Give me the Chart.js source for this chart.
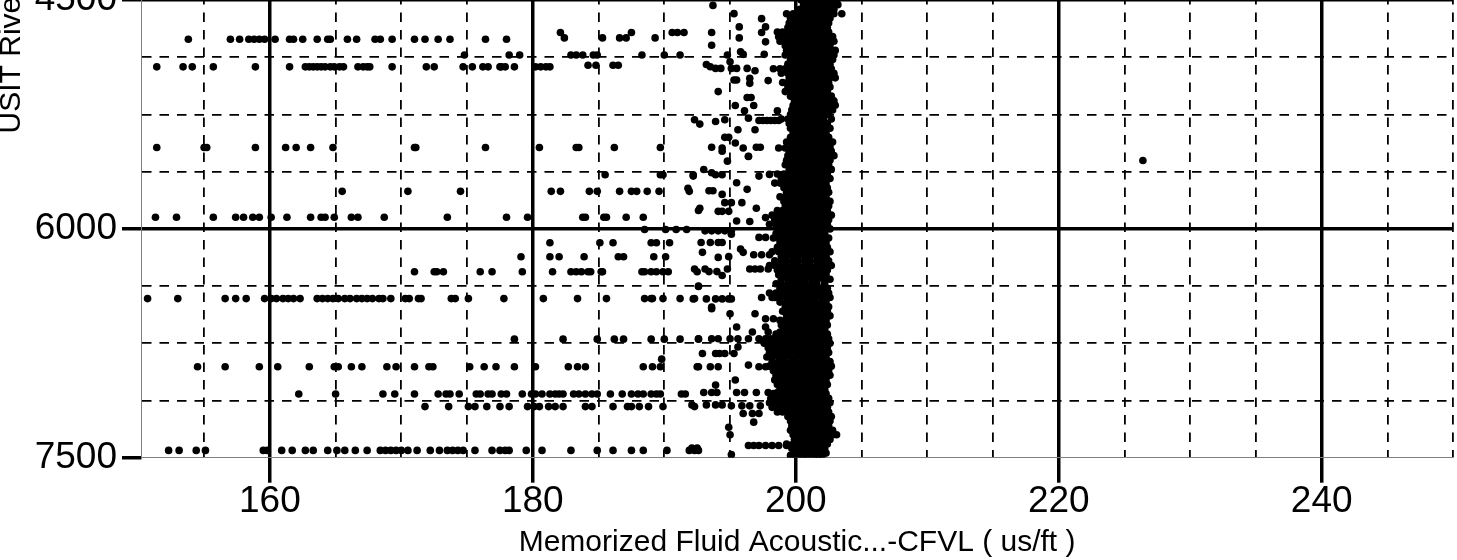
<!DOCTYPE html>
<html>
<head>
<meta charset="utf-8">
<title>CFVL vs depth crossplot</title>
<script src="https://cdn.jsdelivr.net/npm/chart.js@4.4.1/dist/chart.umd.min.js"></script>
<style>
  html, body { margin: 0; padding: 0; background: #fff; overflow: hidden; }
  #frame { position: relative; width: 1457px; height: 560px; overflow: hidden; }
  #crossplot { position: absolute; left: 0; top: -536px; }
</style>
</head>
<body>
<div id="frame"><canvas id="crossplot" width="1457" height="1096"></canvas></div>
<script>
const FONT = "Arial, 'Liberation Sans', sans-serif";

// axis ticks: every tick gets a grid line, only the labelled ones are major
const slownessTicks = [155, 160, 165, 170, 175, 180, 185, 190, 195, 200, 205, 210, 215, 220, 225, 230, 235, 240, 245, 250];
const slownessLabels = [160, 180, 200, 220, 240];
const depthTicks = [1500, 1875, 2250, 2625, 3000, 3375, 3750, 4125, 4500, 4875, 5250, 5625, 6000, 6375, 6750, 7125, 7500];
const depthLabels = [1500, 3000, 4500, 6000, 7500];

// main fluid-slowness trend, one row of readings per depth
const bandDepths = [4470, 4500, 4530, 4560, 4590, 4620, 4650, 4680, 4710, 4740, 4770, 4800, 4830, 4860, 4890, 4920, 4950, 4980,
  5010, 5040, 5070, 5100, 5130, 5160, 5190, 5220, 5250, 5280, 5310, 5340, 5370, 5400, 5430, 5460, 5490, 5520, 5550, 5580,
  5610, 5640, 5670, 5700, 5730, 5760, 5790, 5820, 5850, 5880, 5910, 5940, 5970, 6000, 6030, 6060, 6090, 6120, 6150, 6180,
  6210, 6240, 6270, 6300, 6330, 6360, 6390, 6420, 6450, 6480, 6510, 6540, 6570, 6600, 6630, 6660, 6690, 6720, 6750, 6780,
  6810, 6840, 6870, 6900, 6930, 6960, 6990, 7020, 7050, 7080, 7110, 7140, 7170, 7200, 7230, 7260, 7290, 7320, 7350, 7380,
  7410, 7440, 7470, 7485];
const bandSlowness = [
  [200.5, 200.9, 201.4, 201.8, 202.3, 202.7, 203.2],
  [200.4, 200.8, 201.3, 201.7, 202.2, 202.6, 203.0],
  [200.6, 201.0, 201.5, 201.9, 202.4, 202.8, 203.2],
  [200.3, 200.7, 201.2, 201.6, 202.1, 202.5, 202.9],
  [199.3, 199.8, 200.2, 200.7, 201.1, 201.6, 202.0, 202.5, 202.9, 203.5],
  [199.6, 200.0, 200.5, 200.9, 201.4, 201.8, 202.2, 202.6],
  [199.5, 199.9, 200.4, 200.8, 201.3, 201.7, 202.1, 202.5],
  [199.4, 199.8, 200.3, 200.7, 201.2, 201.6, 202.0, 202.4],
  [198.6, 199.0, 199.5, 199.9, 200.4, 200.8, 201.3, 201.7, 202.1, 202.5],
  [198.7, 199.2, 199.6, 200.1, 200.5, 201.0, 201.4, 201.9, 202.3, 202.8],
  [198.8, 199.2, 199.7, 200.1, 200.6, 201.0, 201.5, 201.9, 202.4, 202.9],
  [199.2, 199.6, 200.1, 200.5, 201.0, 201.4, 201.8, 202.2, 202.6],
  [199.3, 199.8, 200.2, 200.7, 201.1, 201.6, 202.0, 202.5, 203.0],
  [199.2, 199.6, 200.1, 200.5, 201.0, 201.4, 201.9, 202.4, 202.9],
  [199.6, 200.0, 200.5, 200.9, 201.4, 201.8, 202.3, 202.8],
  [199.4, 199.9, 200.3, 200.8, 201.2, 201.7, 202.1, 202.6],
  [198.3, 198.8, 199.2, 199.7, 200.1, 200.6, 201.0, 201.5, 201.9, 202.3, 202.7],
  [198.9, 199.4, 199.8, 200.3, 200.7, 201.2, 201.6, 202.1, 202.5, 202.9],
  [199.5, 199.9, 200.4, 200.8, 201.3, 201.7, 202.2, 202.6, 203.0],
  [199.0, 199.4, 199.9, 200.3, 200.8, 201.2, 201.7, 202.1, 202.5],
  [199.4, 199.8, 200.3, 200.7, 201.2, 201.6, 202.1, 202.6],
  [199.2, 199.7, 200.1, 200.6, 201.0, 201.5, 201.9, 202.4],
  [199.6, 200.0, 200.5, 200.9, 201.4, 201.8, 202.3, 202.7],
  [199.9, 200.3, 200.8, 201.2, 201.7, 202.1, 202.5, 202.9],
  [199.8, 200.2, 200.7, 201.1, 201.6, 202.0, 202.5, 203.0],
  [199.7, 200.1, 200.6, 201.0, 201.5, 201.9, 202.4, 202.8],
  [199.6, 200.0, 200.5, 200.9, 201.4, 201.8, 202.2, 202.5],
  [198.9, 199.4, 199.8, 200.3, 200.7, 201.2, 201.6, 202.1, 202.7],
  [199.5, 199.9, 200.4, 200.8, 201.3, 201.7, 202.1, 202.4],
  [199.6, 200.1, 200.5, 201.0, 201.4, 201.9, 202.3, 202.6],
  [199.8, 200.2, 200.7, 201.1, 201.6, 202.0, 202.3],
  [199.6, 200.0, 200.5, 200.9, 201.4, 201.8, 202.2, 202.5],
  [199.3, 199.8, 200.2, 200.7, 201.1, 201.6, 202.0, 202.4, 202.8],
  [199.7, 200.1, 200.6, 201.0, 201.5, 201.9, 202.3, 202.6],
  [199.5, 200.0, 200.4, 200.9, 201.3, 201.8, 202.2, 202.7],
  [199.4, 199.8, 200.3, 200.7, 201.2, 201.6, 202.1, 202.5, 202.9],
  [199.3, 199.7, 200.2, 200.6, 201.1, 201.5, 202.0, 202.3, 202.6],
  [199.2, 199.7, 200.1, 200.6, 201.0, 201.5, 201.9, 202.2, 202.5],
  [199.5, 199.9, 200.4, 200.8, 201.3, 201.7, 202.2, 202.7],
  [198.6, 199.1, 199.5, 200.0, 200.4, 200.9, 201.3, 201.8, 202.1, 202.4],
  [198.9, 199.3, 199.8, 200.2, 200.7, 201.1, 201.6, 202.0, 202.3, 202.6],
  [198.4, 198.8, 199.3, 199.7, 200.2, 200.6, 201.1, 201.5, 202.0, 202.3],
  [199.1, 199.5, 200.0, 200.4, 200.9, 201.3, 201.8, 202.1, 202.4],
  [199.3, 199.8, 200.2, 200.7, 201.1, 201.6, 202.0, 202.5],
  [198.8, 199.2, 199.7, 200.1, 200.6, 201.0, 201.5, 201.9, 202.3],
  [199.1, 199.6, 200.0, 200.5, 200.9, 201.4, 201.8, 202.2, 202.6],
  [199.2, 199.6, 200.1, 200.5, 201.0, 201.4, 201.9, 202.2, 202.5],
  [198.6, 199.0, 199.5, 199.9, 200.4, 200.8, 201.3, 201.7, 202.1, 202.4],
  [198.2, 198.7, 199.1, 199.6, 200.0, 200.5, 200.9, 201.4, 201.8, 202.3, 202.7],
  [198.4, 198.8, 199.3, 199.7, 200.2, 200.6, 201.1, 201.5, 202.0, 202.5],
  [198.0, 198.5, 198.9, 199.4, 199.8, 200.3, 200.7, 201.2, 201.6, 202.0, 202.4],
  [198.7, 199.1, 199.6, 200.0, 200.5, 200.9, 201.4, 201.8, 202.2, 202.6],
  [198.5, 199.0, 199.4, 199.9, 200.3, 200.8, 201.2, 201.7, 202.2],
  [198.3, 198.7, 199.2, 199.6, 200.1, 200.5, 201.0, 201.4, 201.9, 202.2, 202.5],
  [198.8, 199.3, 199.7, 200.2, 200.6, 201.1, 201.5, 202.0, 202.3],
  [198.6, 199.0, 199.5, 199.9, 200.4, 200.8, 201.3, 201.7, 202.1, 202.4],
  [198.2, 198.7, 199.1, 199.6, 200.0, 200.5, 200.9, 201.4, 201.8, 202.2, 202.6],
  [198.9, 199.3, 199.8, 200.2, 200.7, 201.1, 201.6, 202.0, 202.3],
  [198.4, 198.9, 199.3, 199.8, 200.2, 200.7, 201.1, 201.6, 202.0, 202.5],
  [198.0, 198.4, 198.9, 199.3, 199.8, 200.2, 200.7, 201.1, 201.6, 202.0, 202.4, 202.7],
  [198.6, 199.1, 199.5, 200.0, 200.4, 200.9, 201.3, 201.8, 202.1, 202.4],
  [198.7, 199.1, 199.6, 200.0, 200.5, 200.9, 201.4, 201.8, 202.3],
  [198.9, 199.4, 199.8, 200.3, 200.7, 201.2, 201.6, 202.1, 202.6],
  [198.5, 198.9, 199.4, 199.8, 200.3, 200.7, 201.2, 201.6, 202.2],
  [198.8, 199.2, 199.7, 200.1, 200.6, 201.0, 201.5, 201.9, 202.4],
  [198.0, 198.5, 198.9, 199.4, 199.8, 200.3, 200.7, 201.2, 201.6, 202.1, 202.5],
  [198.4, 198.8, 199.3, 199.7, 200.2, 200.6, 201.1, 201.5, 202.0, 202.3, 202.6],
  [198.8, 199.3, 199.7, 200.2, 200.6, 201.1, 201.5, 202.0, 202.3],
  [199.2, 199.6, 200.1, 200.5, 201.0, 201.4, 201.9, 202.2, 202.5],
  [199.0, 199.5, 199.9, 200.4, 200.8, 201.3, 201.7, 202.1, 202.4],
  [199.3, 199.7, 200.2, 200.6, 201.1, 201.5, 202.0, 202.3, 202.6],
  [198.8, 199.2, 199.7, 200.1, 200.6, 201.0, 201.5, 201.9, 202.3],
  [198.9, 199.4, 199.8, 200.3, 200.7, 201.2, 201.6, 202.0, 202.4],
  [199.1, 199.5, 200.0, 200.4, 200.9, 201.3, 201.8, 202.2],
  [198.5, 199.0, 199.4, 199.9, 200.3, 200.8, 201.2, 201.7, 202.1, 202.4],
  [197.7, 198.1, 198.6, 199.0, 199.5, 199.9, 200.4, 200.8, 201.3, 201.7, 202.2, 202.5],
  [197.6, 198.1, 198.5, 199.0, 199.4, 199.9, 200.3, 200.8, 201.2, 201.7, 202.1, 202.6],
  [197.9, 198.3, 198.8, 199.2, 199.7, 200.1, 200.6, 201.0, 201.5, 201.9, 202.4],
  [198.0, 198.5, 198.9, 199.4, 199.8, 200.3, 200.7, 201.2, 201.6, 202.1, 202.5],
  [197.8, 198.2, 198.7, 199.1, 199.6, 200.0, 200.5, 200.9, 201.4, 201.8, 202.3],
  [198.2, 198.7, 199.1, 199.6, 200.0, 200.5, 200.9, 201.4, 201.8, 202.2, 202.6],
  [198.0, 198.4, 198.9, 199.3, 199.8, 200.2, 200.7, 201.1, 201.6, 202.0, 202.4, 202.7],
  [198.3, 198.8, 199.2, 199.7, 200.1, 200.6, 201.0, 201.5, 201.9, 202.2, 202.5],
  [198.5, 198.9, 199.4, 199.8, 200.3, 200.7, 201.2, 201.6, 202.1, 202.6],
  [198.4, 198.9, 199.3, 199.8, 200.2, 200.7, 201.1, 201.6, 202.0, 202.3],
  [198.6, 199.0, 199.5, 199.9, 200.4, 200.8, 201.3, 201.7, 202.1, 202.4],
  [198.8, 199.3, 199.7, 200.2, 200.6, 201.1, 201.5, 201.9, 202.2],
  [198.3, 198.7, 199.2, 199.6, 200.1, 200.5, 201.0, 201.4, 201.9, 202.3],
  [198.1, 198.6, 199.0, 199.5, 199.9, 200.4, 200.8, 201.3, 201.7, 202.1, 202.5],
  [198.0, 198.4, 198.9, 199.3, 199.8, 200.2, 200.7, 201.1, 201.6, 202.0, 202.3, 202.6],
  [198.2, 198.7, 199.1, 199.6, 200.0, 200.5, 200.9, 201.4, 201.8, 202.1, 202.4],
  [198.6, 199.0, 199.5, 199.9, 200.4, 200.8, 201.3, 201.7, 202.1, 202.5],
  [199.4, 199.9, 200.3, 200.8, 201.2, 201.7, 202.1, 202.4, 202.7],
  [199.6, 200.0, 200.5, 200.9, 201.4, 201.8, 202.2, 202.6],
  [199.7, 200.2, 200.6, 201.1, 201.5, 202.0, 202.5],
  [199.6, 200.0, 200.5, 200.9, 201.4, 201.8, 202.3, 202.8],
  [199.8, 200.2, 200.7, 201.1, 201.6, 202.0, 202.5, 202.8, 203.1],
  [199.9, 200.3, 200.8, 201.2, 201.7, 202.1, 202.6],
  [199.3, 199.8, 200.2, 200.7, 201.1, 201.6, 202.0, 202.4],
  [199.7, 200.1, 200.6, 201.0, 201.5, 201.9, 202.2],
  [199.9, 200.3, 200.8, 201.2, 201.7, 202.0, 202.3],
  [199.6, 200.0, 200.5, 200.9, 201.4, 201.7, 202.0]
];

// scattered readings away from the trend
const scatterDepths = [4535, 4589, 4622, 4676, 4713, 4748, 4757, 4774, 4796, 4839, 4856, 4860, 4904, 4922, 4927, 4937, 4938,
  4948, 4963, 5013, 5024, 5028, 5046, 5100, 5139, 5191, 5226, 5274, 5285, 5290, 5296, 5313, 5350, 5400, 5437, 5465, 5467,
  5470, 5491, 5524, 5526, 5552, 5556, 5611, 5632, 5643, 5645, 5654, 5698, 5734, 5741, 5750, 5754, 5774, 5828, 5865, 5880,
  5885, 5924, 5926, 5948, 5952, 6004, 6013, 6035, 6056, 6089, 6091, 6132, 6154, 6170, 6182, 6183, 6187, 6263, 6280, 6281,
  6306, 6375, 6378, 6450, 6457, 6459, 6513, 6524, 6556, 6589, 6643, 6676, 6720, 6723, 6774, 6817, 6854, 6893, 6904, 6991,
  7024, 7073, 7082, 7154, 7160, 7165, 7210, 7267, 7300, 7350, 7420, 7437, 7452, 7480];
const scatterSlowness = [
  [193.7],
  [195.3],
  [197.4],
  [195.7, 197.7],
  [182.1, 187.5, 190.6, 191.0, 191.5, 193.6, 197.4],
  [182.4, 185.3, 186.6, 187.1, 189.3, 195.7],
  [153.8, 157.0, 157.7, 158.4, 158.8, 159.2, 159.6, 160.4, 161.5, 161.8, 162.5, 163.6, 164.4, 164.6, 165.9, 166.6, 168.0, 168.4, 169.3, 171.0, 171.8, 172.8, 173.7, 176.4, 178.0],
  [197.7],
  [193.6],
  [195.8],
  [196.0, 197.6],
  [174.8, 178.2, 179.0, 182.9, 183.3, 183.8, 184.6, 184.9, 188.3, 190.0, 191.2, 194.8],
  [195.0],
  [193.2],
  [184.2, 184.8, 186.1, 186.5],
  [193.5],
  [151.4, 153.4, 154.1, 155.7, 158.9, 161.5, 162.7, 163.0, 163.3, 163.6, 163.9, 164.2, 164.6, 164.9, 165.3, 165.6, 166.7, 167.1, 167.4, 167.6, 169.3, 171.9, 172.5, 174.7, 175.4, 176.2, 176.6, 177.5, 177.6, 177.9, 178.6, 180.2, 180.6, 181.0, 181.3],
  [193.9, 194.3, 195.1, 195.5, 196.3],
  [196.9],
  [196.5],
  [195.3, 195.5],
  [197.9],
  [196.5],
  [194.1],
  [196.3, 196.6],
  [195.4, 196.8],
  [196.1, 198.6],
  [196.4],
  [192.3, 194.6],
  [197.2, 197.5, 197.8, 198.1, 198.4, 198.7],
  [193.9],
  [192.7],
  [195.6, 196.9],
  [194.6, 194.9],
  [195.4],
  [193.6, 197.0, 197.3],
  [151.4, 155.0, 155.2, 158.9, 161.2, 162.0, 163.1, 164.8, 171.0, 171.1, 176.4, 180.5, 183.3, 183.5, 186.2, 189.7],
  [194.4, 196.0, 198.7, 199.2],
  [194.4],
  [196.4],
  [196.4],
  [226.4],
  [194.8],
  [193.0],
  [193.6],
  [198.0],
  [185.5, 189.7, 189.9, 192.2, 193.9, 194.4],
  [192.2, 197.2],
  [195.5],
  [191.8],
  [196.3],
  [193.4, 193.7],
  [165.5, 170.5, 174.5, 181.4, 182.1, 184.3, 184.9, 186.6, 187.5, 187.9, 188.7, 189.6, 191.9],
  [194.4],
  [194.6, 195.1, 195.9],
  [192.7, 197.0],
  [192.6],
  [194.1, 194.4, 194.9],
  [151.3, 152.9, 155.7, 157.4, 158.0, 158.7, 159.2, 160.1, 161.3, 163.1, 163.9, 164.2, 164.9, 166.2, 166.7, 168.7, 173.5, 178.0, 179.6, 183.8, 184.0, 185.4, 185.6, 187.1, 188.4],
  [197.7],
  [195.5],
  [196.5],
  [188.5, 190.1, 190.9, 191.7],
  [193.1, 193.6, 194.1, 194.6, 195.1],
  [195.1],
  [197.2, 197.7],
  [192.8, 193.5, 194.1, 194.4],
  [181.3, 185.1, 186.1, 189.0, 189.4, 190.4],
  [195.8],
  [192.9, 196.0],
  [196.8, 197.4, 198.0],
  [194.9],
  [179.1, 181.3, 182.0, 183.9, 186.5, 186.9, 189.2, 190.1],
  [194.1],
  [192.3, 193.1, 194.8, 196.5, 196.9, 197.3, 197.9],
  [193.4, 194.0],
  [171.0, 172.5, 172.7, 173.2, 176.0, 176.9, 179.2, 181.5, 182.9, 183.3, 183.7, 184.2, 184.4, 185.2, 185.3, 188.3, 188.5, 189.0, 189.4, 189.9, 190.3, 192.5],
  [194.4],
  [192.6],
  [192.6],
  [197.4, 198.2, 198.7],
  [150.7, 153.0, 156.6, 157.4, 158.2, 159.6, 160.1, 160.5, 161.0, 161.4, 161.8, 162.3, 163.6, 164.0, 164.4, 164.8, 165.2, 165.7, 166.1, 166.6, 167.0, 167.4, 167.8, 168.3, 168.6, 169.2, 170.3, 170.6, 171.3, 171.5, 173.8, 174.1, 175.1, 177.8, 180.8, 183.4, 185.6, 188.5, 189.0, 189.1, 189.9, 191.2, 192.3],
  [192.2, 193.2, 193.9, 194.4, 194.9, 195.1],
  [193.6],
  [193.6],
  [195.0, 196.9],
  [197.7, 198.3],
  [195.5, 197.7],
  [196.7, 197.9, 198.8],
  [192.6, 193.6, 194.1, 195.0, 195.6, 196.4, 197.2, 197.8, 198.4],
  [178.6, 182.3, 184.9, 186.2, 186.9, 189.0, 190.0, 191.2, 192.6],
  [195.6],
  [192.9, 193.9, 194.2, 194.6, 195.3],
  [189.8],
  [196.4],
  [154.5, 156.6, 159.2, 160.6, 163.0, 164.9, 165.2, 166.2, 167.0, 168.9, 169.6, 171.0, 172.1, 172.4, 175.2, 176.3, 177.2, 178.6, 180.2, 182.7, 183.4, 184.0, 188.4, 189.1, 189.7, 192.5, 192.6, 193.5, 194.1, 197.2, 197.7],
  [195.4],
  [193.9],
  [193.0, 193.6, 194.0, 195.5, 196.1, 197.0, 197.9, 198.6],
  [162.2, 165.0, 168.6, 169.5, 171.0, 172.8, 173.4, 173.7, 174.4, 175.7, 176.0, 176.6, 176.9, 177.6, 178.0, 179.2, 179.9, 180.2, 180.7, 181.3, 181.7, 182.0, 182.3, 183.1, 183.5, 184.0, 184.5, 184.9, 185.9, 186.8, 187.5, 188.0, 188.4, 189.0, 189.4, 189.7, 191.3, 191.6],
  [192.1, 193.2, 193.9, 194.4],
  [195.1, 195.9, 196.5, 197.3],
  [171.8, 173.6, 175.1, 175.6, 176.5, 177.5, 178.2, 179.6, 180.1, 180.5, 181.2, 181.7, 182.3, 184.0, 184.5, 186.1, 187.2, 187.5, 188.1, 188.8, 189.9, 192.3],
  [196.0, 196.7, 197.2],
  [196.8],
  [194.9],
  [195.0],
  [196.4, 196.8, 197.2, 197.7, 198.2, 198.7, 199.3],
  [192.1, 192.5],
  [152.3, 153.1, 154.4, 155.1, 159.5, 159.8, 160.9, 161.7, 162.7, 163.3, 164.4, 165.1, 165.7, 166.5, 167.4, 168.4, 168.8, 169.2, 169.6, 170.0, 170.5, 171.2, 172.2, 172.9, 173.5, 173.9, 174.3, 174.7, 175.6, 176.9, 177.5, 177.9, 178.2, 179.5, 180.7, 182.9, 184.9, 186.1, 187.5, 188.4, 190.2, 191.9, 192.3, 192.6],
  [195.1]
];

function toPoints(depths, values) {
    const points = [];
    depths.forEach((depth, i) => {
        values[i].forEach(v => points.push({ x: v, y: depth }));
    });
    return points;
}

const isMajorX = ctx => ctx.tick && slownessLabels.includes(ctx.tick.value);
const isMajorY = ctx => ctx.tick && depthLabels.includes(ctx.tick.value);

const allPoints = toPoints(bandDepths, bandSlowness).concat(toPoints(scatterDepths, scatterSlowness));

new Chart(document.getElementById("crossplot"), {
    type: "scatter",
    data: {
        datasets: [{
            label: "CFVL",
            data: allPoints,
            pointRadius: 3.8,
            pointBackgroundColor: "#000",
            pointBorderWidth: 0,
            pointHoverRadius: 3.8
        }]
    },
    options: {
        responsive: false,
        animation: false,
        events: [],
        layout: { padding: { top: 18.5, right: 0, bottom: 0, left: 0 } },
        plugins: {
            legend: { display: false },
            tooltip: { enabled: false }
        },
        scales: {
            x: {
                type: "linear",
                position: "bottom",
                min: 150.2,
                max: 250,
                afterBuildTicks: scale => { scale.ticks = slownessTicks.map(v => ({ value: v })); },
                afterFit: scale => { scale.height = 102.3; },
                ticks: {
                    autoSkip: false,
                    maxRotation: 0,
                    padding: 1,
                    color: "#000",
                    font: { family: FONT, size: 37, lineHeight: 1 },
                    callback: v => slownessLabels.includes(v) ? String(v) : ""
                },
                grid: {
                    color: "#000",
                    lineWidth: ctx => isMajorX(ctx) ? 3.5 : 1.8,
                    tickLength: 25,
                    tickWidth: ctx => isMajorX(ctx) ? 3.5 : 0,
                    tickColor: "#000"
                },
                border: {
                    color: "#808080",
                    width: 1,
                    dash: ctx => (ctx.tick && !isMajorX(ctx)) ? [9.5, 8] : []
                },
                title: {
                    display: true,
                    text: "Memorized Fluid Acoustic...-CFVL ( us/ft )",
                    color: "#000",
                    font: { family: FONT, size: 30, lineHeight: 1 },
                    padding: { top: 0, bottom: 2 }
                }
            },
            y: {
                type: "linear",
                position: "left",
                reverse: true,
                min: 1140,
                max: 7500,
                afterBuildTicks: scale => { scale.ticks = depthTicks.map(v => ({ value: v })); },
                afterFit: scale => { scale.width = 141; },
                ticks: {
                    autoSkip: false,
                    padding: 5,
                    color: "#000",
                    font: { family: FONT, size: 37, lineHeight: 1 },
                    callback: v => depthLabels.includes(v) ? String(v) : ""
                },
                grid: {
                    // the bottom edge already carries the axis line
                    color: ctx => (ctx.tick && ctx.tick.value === 7500) ? "rgba(0,0,0,0)" : "#000",
                    lineWidth: ctx => isMajorY(ctx) ? 3.5 : 1.8,
                    tickLength: 19,
                    tickWidth: ctx => isMajorY(ctx) ? 3.5 : 0,
                    tickColor: "#000"
                },
                border: {
                    color: "#808080",
                    width: 1,
                    dash: ctx => (ctx.tick && !isMajorY(ctx)) ? [9.5, 8] : []
                },
                title: {
                    display: true,
                    text: "USIT River...-TDEP ( ft )",
                    color: "#000",
                    font: { family: FONT, size: 30, lineHeight: 0.8 },
                    padding: { top: 0, bottom: 0 }
                }
            }
        }
    }
});
</script>
</body>
</html>
